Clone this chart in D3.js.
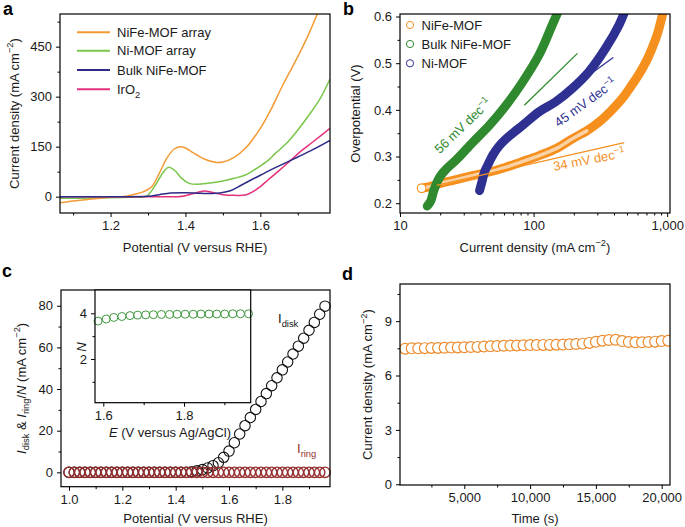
<!DOCTYPE html>
<html><head><meta charset="utf-8">
<script src="https://cdn.jsdelivr.net/npm/d3@7"></script>
<style>
body{margin:0;background:#fff}
svg text{font-family:"Liberation Sans",Arial,sans-serif;fill:#1a1a1a}
</style></head>
<body><svg id="c" width="685" height="527"></svg>
<script>
// ---------- DATA ----------
// Panel a: LSV curves [potential V vs RHE, current density mA cm-2]
const aNiFeArray = [[1.065,-18],[1.10,-13],[1.15,-7],[1.20,-2],[1.23,0],[1.26,6],[1.29,16],[1.31,30],[1.33,70],[1.35,115],[1.37,143],[1.385,150],[1.40,146],[1.42,132],[1.45,113],[1.48,103],[1.50,104],[1.53,118],[1.56,145],[1.60,205],[1.63,265],[1.66,335],[1.70,420],[1.73,490],[1.76,570]];
const aNiArray = [[1.065,-5],[1.15,-4],[1.25,-2],[1.29,0],[1.30,5],[1.32,35],[1.34,72],[1.355,88],[1.37,80],[1.39,55],[1.41,40],[1.43,37],[1.46,40],[1.50,47],[1.53,55],[1.56,65],[1.59,85],[1.62,108],[1.64,130],[1.67,160],[1.70,200],[1.73,245],[1.76,295],[1.786,353]];
const aBulk = [[1.065,0],[1.20,0],[1.30,1],[1.33,6],[1.36,11],[1.40,12],[1.44,10],[1.48,10],[1.52,18],[1.55,35],[1.58,53],[1.61,70],[1.64,87],[1.67,103],[1.70,119],[1.74,141],[1.786,169]];
const aIrO2 = [[1.065,0],[1.30,0],[1.38,0],[1.40,3],[1.43,12],[1.452,17],[1.47,13],[1.50,6],[1.53,4],[1.56,5],[1.58,15],[1.60,30],[1.62,50],[1.65,78],[1.68,108],[1.71,138],[1.74,164],[1.786,205]];
const aLegend = ["NiFe-MOF array","Ni-MOF array","Bulk NiFe-MOF","IrO2"];
const aYTicks = [0,150,300,450], aYMinor=[75,225,375,525];
const aXTicks = [1.2,1.4,1.6], aXMinor=[1.1,1.3,1.5,1.7];

// Panel b: Tafel plots [current density, overpotential]
const bNiFe = [[14.5,0.232],[17,0.236],[19.8,0.242],[25,0.249],[35,0.259],[50,0.269],[62,0.277],[80,0.288],[110,0.302],[150,0.318],[195,0.338],[250,0.355],[309,0.374],[380,0.398],[460,0.424],[540,0.452],[611,0.475],[700,0.505],[771,0.532],[850,0.565],[915,0.600],[950,0.62]];
const bBulk = [[16,0.194],[17,0.205],[17.8,0.225],[18.5,0.238],[19.8,0.256],[22,0.272],[26.4,0.293],[35.2,0.331],[46.7,0.367],[62.3,0.41],[82.9,0.46],[110,0.518],[138,0.582],[155,0.615]];
const bNi = [[39.4,0.227],[41,0.245],[42.9,0.267],[46,0.285],[49.5,0.303],[55,0.322],[62.3,0.338],[72,0.353],[82.9,0.367],[110,0.396],[146,0.417],[195,0.446],[260,0.482],[346,0.532],[436,0.582],[480,0.61]];
const bFitNiFe = [[18.8,0.238],[477,0.330]];
const bFitBulk = [[85.3,0.410],[213,0.521]];
const bFitNi = [[170,0.436],[395,0.512]];
const bLegend = ["NiFe-MOF","Bulk NiFe-MOF","Ni-MOF"];
const bSlopes = ["56 mV dec","45 mV dec","34 mV dec"];
const bYTicks=[0.2,0.3,0.4,0.5,0.6], bYMinor=[0.25,0.35,0.45,0.55];
const bXTicks=[10,100,1000], bXMinor=[20,30,40,50,60,70,80,90,200,300,400,500,600,700,800,900];

// Panel c: RRDE
const cPotential = [1.00,1.02,1.04,1.06,1.08,1.10,1.12,1.14,1.16,1.18,1.20,1.22,1.24,1.26,1.28,1.30,1.32,1.34,1.36,1.38,1.40,1.42,1.44,1.46,1.48,1.50,1.52,1.54,1.56,1.58,1.60,1.62,1.64,1.66,1.68,1.70,1.72,1.74,1.76,1.78,1.80,1.82,1.84,1.86,1.88,1.90,1.92,1.94,1.96];
const cIdisk = [0,0,0,0,0,0,0,0,0,0,0,0,0,0,0,0,0,0,0,0,0,0,0,0.3,0.7,1.3,2.1,3.2,4.6,7.2,10.2,14.2,18.4,22.4,26.3,30.2,34.0,37.8,41.6,45.4,49.2,53.0,56.8,60.6,64.4,68.2,72.0,75.9,79.8];
const cIring = [0,0,0,0,0,0,0,0,0,0,0,0,0,0,0,0,0,0,0,0,0,0,0,0,0,0,0,0,0,0,0,0,0,0,0,0,0,0,0,0,0,0,0,0,0,0,0,0,0];
const cInsetE = [1.587,1.607,1.626,1.646,1.666,1.685,1.705,1.724,1.744,1.764,1.783,1.803,1.823,1.842,1.862,1.881,1.901,1.921,1.940,1.960];
const cInsetN = [3.66,3.75,3.82,3.86,3.90,3.92,3.93,3.94,3.95,3.95,3.96,3.96,3.96,3.97,3.97,3.97,3.97,3.98,3.98,3.98];
const cYTicks=[0,20,40,60,80], cYMinor=[10,30,50,70];
const cXTicks=[1.0,1.2,1.4,1.6,1.8], cXMinor=[1.1,1.3,1.5,1.7,1.9];

// Panel d: stability
const dTime = [500,1000,1500,2000,2500,3000,3500,4000,4500,5000,5500,6000,6500,7000,7500,8000,8500,9000,9500,10000,10500,11000,11500,12000,12500,13000,13500,14000,14500,15000,15500,16000,16500,17000,17500,18000,18500,19000,19500,20000,20500];
const dCurrent = [7.48,7.50,7.50,7.51,7.52,7.52,7.53,7.54,7.55,7.56,7.57,7.58,7.60,7.61,7.63,7.64,7.65,7.66,7.67,7.68,7.68,7.69,7.69,7.70,7.71,7.72,7.74,7.76,7.80,7.86,7.92,7.96,7.97,7.90,7.85,7.83,7.83,7.85,7.87,7.90,7.92];
const dYTicks=[0,3,6,9], dYMinor=[1.5,4.5,7.5,10.5];
const dXTicks=[5000,10000,15000,20000], dXMinor=[2500,7500,12500,17500];

// ---------- HELPERS ----------
const svg = d3.select("#c");
const FS = 13;

function rich(t, parts, fs) {
  let cur = 0;
  for (const p of parts) {
    const target = p.s === 'sup' ? -0.42*fs : p.s === 'sub' ? 0.3*fs : 0;
    const ts = t.append('tspan').text(p.t).attr('dy', target - cur);
    if (p.s) ts.attr('font-size', fs*0.72);
    if (p.i) ts.attr('font-style','italic');
    cur = target;
  }
  return t;
}

function axes(g, x, y, box, o) {
  const xa = g.append("g").attr("transform",`translate(0,${box.y1})`)
    .call(d3.axisBottom(x).tickValues(o.xMajor).tickSize(4).tickSizeOuter(0).tickPadding(4).tickFormat(o.xFmt));
  const xm = g.append("g").attr("transform",`translate(0,${box.y1})`)
    .call(d3.axisBottom(x).tickValues(o.xMinor).tickSize(2.5).tickSizeOuter(0).tickFormat(""));
  const ya = g.append("g").attr("transform",`translate(${box.x0},0)`)
    .call(d3.axisLeft(y).tickValues(o.yMajor).tickSize(4).tickSizeOuter(0).tickPadding(4).tickFormat(o.yFmt));
  const ym = g.append("g").attr("transform",`translate(${box.x0},0)`)
    .call(d3.axisLeft(y).tickValues(o.yMinor).tickSize(2.5).tickSizeOuter(0).tickFormat(""));
  [xa,xm,ya,ym].forEach(a=>{
    a.select(".domain").remove();
    a.selectAll("line").attr("stroke","#000").attr("stroke-width",1);
    a.selectAll("text").attr("font-size",o.fs||FS).attr("font-family",null).attr("fill","#1a1a1a");
  });
  g.append("rect").attr("x",box.x0).attr("y",box.y0).attr("width",box.x1-box.x0).attr("height",box.y1-box.y0)
    .attr("fill","none").attr("stroke","#000").attr("stroke-width",1.2);
}

function clip(id, box) {
  svg.append("clipPath").attr("id",id).append("rect")
    .attr("x",box.x0).attr("y",box.y0).attr("width",box.x1-box.x0).attr("height",box.y1-box.y0);
}

function letter(t,x,y){ svg.append("text").attr("x",x).attr("y",y).attr("font-size",18).attr("font-weight","bold").style("fill","#000").text(t); }

// ---------- PANEL A ----------
{
  const box={x0:60,x1:330,y0:14,y1:213};
  const x=d3.scaleLinear().domain([1.065,1.786]).range([box.x0,box.x1]);
  const y=d3.scaleLinear().domain([-49,548]).range([box.y1,box.y0]);
  clip("clipA",box);
  const g=svg.append("g");
  const line=d3.line().x(d=>x(d[0])).y(d=>y(d[1])).curve(d3.curveCatmullRom.alpha(0.5));
  const series=[[aNiFeArray,"#f39a34"],[aNiArray,"#79c64a"],[aBulk,"#2d2a88"],[aIrO2,"#e5307c"]];
  const lg=g.append("g").attr("clip-path","url(#clipA)");
  [series[1],series[0],series[3],series[2]].forEach(([d,c])=>{
    lg.append("path").attr("d",line(d)).attr("fill","none").attr("stroke",c).attr("stroke-width",1.5);
  });
  axes(g,x,y,box,{xMajor:aXTicks,xMinor:aXMinor,xFmt:d3.format(".1f"),yMajor:aYTicks,yMinor:aYMinor,yFmt:d3.format("d")});
  const ly=[32.3,50.7,70,89.3];
  series.forEach(([d,c],i)=>{
    g.append("line").attr("x1",77).attr("x2",110).attr("y1",ly[i]).attr("y2",ly[i]).attr("stroke",c).attr("stroke-width",2);
    const t=g.append("text").attr("x",117).attr("y",ly[i]+4.6).attr("font-size",FS);
    if(i===3) rich(t,[{t:"IrO"},{t:"2",s:'sub'}],FS); else t.text(aLegend[i]);
  });
  g.append("text").attr("x",(box.x0+box.x1)/2).attr("y",251.5).attr("text-anchor","middle").attr("font-size",FS).text("Potential (V versus RHE)");
  rich(g.append("text").attr("transform",`translate(18.5,${(box.y0+box.y1)/2}) rotate(-90)`).attr("text-anchor","middle").attr("font-size",FS),
    [{t:"Current density (mA cm"},{t:"−2",s:'sup'},{t:")"}],FS);
  letter("a",3,15);
}

// ---------- PANEL B ----------
{
  const box={x0:400,x1:670,y0:14,y1:213};
  const x=d3.scaleLog().domain([10,1050]).range([box.x0,box.x1]);
  const y=d3.scaleLinear().domain([0.179,0.6054]).range([box.y1,box.y0]);
  clip("clipB",box);
  const g=svg.append("g");
  const line=d3.line().x(d=>x(d[0])).y(d=>y(d[1])).curve(d3.curveCatmullRom.alpha(0.5));
  const lg=g.append("g").attr("clip-path","url(#clipB)");
  const cO="#f5901e", cG="#2f8a2f", cB="#2e3192";
  lg.append("path").attr("d",line(bNiFe)).attr("fill","none").attr("stroke",cO).attr("stroke-width",9).attr("stroke-linecap","round");
  lg.append("path").attr("d",line(bNiFe.filter(d=>d[0]<=250))).attr("fill","none").attr("stroke","#fbd2a3").attr("stroke-width",3.5).attr("stroke-linecap","round");
  lg.append("circle").attr("cx",x(bNiFe[0][0])).attr("cy",y(bNiFe[0][1])).attr("r",4.3).attr("fill","#fff").attr("stroke",cO).attr("stroke-width",1.1);
  lg.append("path").attr("d",line(bBulk)).attr("fill","none").attr("stroke",cG).attr("stroke-width",9).attr("stroke-linecap","round");
  lg.append("path").attr("d",line(bNi)).attr("fill","none").attr("stroke",cB).attr("stroke-width",9).attr("stroke-linecap","round");
  const fl=d3.line().x(d=>x(d[0])).y(d=>y(d[1]));
  lg.append("path").attr("d",fl(bFitNiFe)).attr("stroke",cO).attr("stroke-width",1.3).attr("fill","none");
  lg.append("path").attr("d",fl(bFitBulk)).attr("stroke",cG).attr("stroke-width",1.3).attr("fill","none");
  lg.append("path").attr("d",fl(bFitNi)).attr("stroke",cB).attr("stroke-width",1.3).attr("fill","none");
  axes(g,x,y,box,{xMajor:bXTicks,xMinor:bXMinor,xFmt:d3.format(","),yMajor:bYTicks,yMinor:bYMinor,yFmt:d3.format(".1f")});
  const lab=[[466,129,-44,cG,0],[588,106,-36,cB,1],[590,164,-11,cO,2]];
  lab.forEach(([lx,ly,a,c,i])=>{
    rich(g.append("text").attr("transform",`translate(${lx},${ly}) rotate(${a})`).attr("text-anchor","middle").attr("dy","0.35em").attr("font-size",FS).style("fill",c),
      [{t:bSlopes[i]},{t:"−1",s:'sup'}],FS).selectAll("tspan").style("fill",c);
  });
  const ly=[25,44,63.3], lc=[cO,cG,cB];
  bLegend.forEach((n,i)=>{
    g.append("circle").attr("cx",410).attr("cy",ly[i]).attr("r",3.6).attr("fill","none").attr("stroke",lc[i]).attr("stroke-width",1);
    g.append("text").attr("x",421.5).attr("y",ly[i]+4.6).attr("font-size",FS).text(n);
  });
  rich(g.append("text").attr("x",(box.x0+box.x1)/2).attr("y",251.5).attr("text-anchor","middle").attr("font-size",FS),
    [{t:"Current density (mA cm"},{t:"−2",s:'sup'},{t:")"}],FS);
  g.append("text").attr("transform",`translate(360,${(box.y0+box.y1)/2}) rotate(-90)`).attr("text-anchor","middle").attr("font-size",FS).text("Overpotential (V)");
  letter("b",343,15);
}

// ---------- PANEL C ----------
{
  const box={x0:61,x1:330,y0:290,y1:486.7};
  const x=d3.scaleLinear().domain([0.97,1.9787]).range([box.x0,box.x1]);
  const y=d3.scaleLinear().domain([-6.9,87.55]).range([box.y1,box.y0]);
  const g=svg.append("g");
  const cR="#962e2e";
  g.selectAll(".disk").data(cPotential.map((v,i)=>[v,cIdisk[i]])).join("circle")
    .attr("cx",d=>x(d[0])).attr("cy",d=>y(d[1])).attr("r",5.2).attr("fill","none").attr("stroke","#111").attr("stroke-width",1.1);
  g.selectAll(".ring").data(cPotential.map((v,i)=>[v,cIring[i]])).join("circle")
    .attr("cx",d=>x(d[0])).attr("cy",d=>y(d[1])).attr("r",5.2).attr("fill","none").attr("stroke",cR).attr("stroke-width",1.4);
  axes(g,x,y,box,{xMajor:cXTicks,xMinor:cXMinor,xFmt:d3.format(".1f"),yMajor:cYTicks,yMinor:cYMinor,yFmt:d3.format("d")});
  g.append("text").attr("x",(box.x0+box.x1)/2).attr("y",522.5).attr("text-anchor","middle").attr("font-size",FS).text("Potential (V versus RHE)");
  rich(g.append("text").attr("transform",`translate(25.5,${(box.y0+box.y1)/2}) rotate(-90)`).attr("text-anchor","middle").attr("font-size",FS),
    [{t:"I",i:1},{t:"disk",s:'sub'},{t:" & "},{t:"I",i:1},{t:"ring",s:'sub'},{t:"/"},{t:"N",i:1},{t:" (mA cm"},{t:"−2",s:'sup'},{t:")"}],FS);
  const td=g.append("text").attr("x",278).attr("y",323).attr("font-size",FS).style("fill","#111");
  rich(td,[{t:"I"},{t:"disk",s:'sub'}],FS); td.selectAll("tspan").style("fill","#111");
  const tr=g.append("text").attr("x",297).attr("y",453).attr("font-size",FS).style("fill",cR);
  rich(tr,[{t:"I"},{t:"ring",s:'sub'}],FS); tr.selectAll("tspan").style("fill",cR);
  // inset
  const ib={x0:95,x1:250.7,y0:290,y1:402.7};
  const ix=d3.scaleLinear().domain([1.5794,1.9653]).range([ib.x0,ib.x1]);
  const iy=d3.scaleLinear().domain([0.087,5.02]).range([ib.y1,ib.y0]);
  const ig=g.append("g");
  ig.append("rect").attr("x",ib.x0).attr("y",ib.y0).attr("width",ib.x1-ib.x0).attr("height",ib.y1-ib.y0).attr("fill","#fff");
  ig.selectAll("circle").data(cInsetE.map((v,i)=>[v,cInsetN[i]])).join("circle")
    .attr("cx",d=>ix(d[0])).attr("cy",d=>iy(d[1])).attr("r",4).attr("fill","none").attr("stroke","#3f973f").attr("stroke-width",1);
  axes(ig,ix,iy,ib,{xMajor:[1.6,1.8],xMinor:[1.7,1.9],xFmt:d3.format(".1f"),yMajor:[2,4],yMinor:[1,3],yFmt:d3.format("d")});
  rich(ig.append("text").attr("x",170).attr("y",437).attr("text-anchor","middle").attr("font-size",FS),
    [{t:"E",i:1},{t:" (V versus Ag/AgCl)"}],FS);
  ig.append("text").attr("transform",`translate(86,347) rotate(-90)`).attr("text-anchor","middle").attr("font-size",FS).attr("font-style","italic").text("N");
  letter("c",2,277);
}

// ---------- PANEL D ----------
{
  const box={x0:400,x1:670,y0:284,y1:485};
  const x=d3.scaleLinear().domain([114,20631]).range([box.x0,box.x1]);
  const y=d3.scaleLinear().domain([-0.04,11.05]).range([box.y1,box.y0]);
  clip("clipD",box);
  const g=svg.append("g");
  g.append("g").attr("clip-path","url(#clipD)").selectAll("circle").data(dTime.map((t,i)=>[t,dCurrent[i]])).join("circle")
    .attr("cx",d=>x(d[0])).attr("cy",d=>y(d[1])).attr("r",5.4).attr("fill","#fff").attr("stroke","#ec8a2c").attr("stroke-width",1.2);
  axes(g,x,y,box,{xMajor:dXTicks,xMinor:dXMinor,xFmt:d3.format(","),yMajor:dYTicks,yMinor:dYMinor,yFmt:d3.format("d")});
  g.append("text").attr("x",(box.x0+box.x1)/2).attr("y",522.5).attr("text-anchor","middle").attr("font-size",FS).text("Time (s)");
  rich(g.append("text").attr("transform",`translate(372,${(box.y0+box.y1)/2}) rotate(-90)`).attr("text-anchor","middle").attr("font-size",FS),
    [{t:"Current density (mA cm"},{t:"−2",s:'sup'},{t:")"}],FS);
  letter("d",342,280);
}
</script></body></html>
